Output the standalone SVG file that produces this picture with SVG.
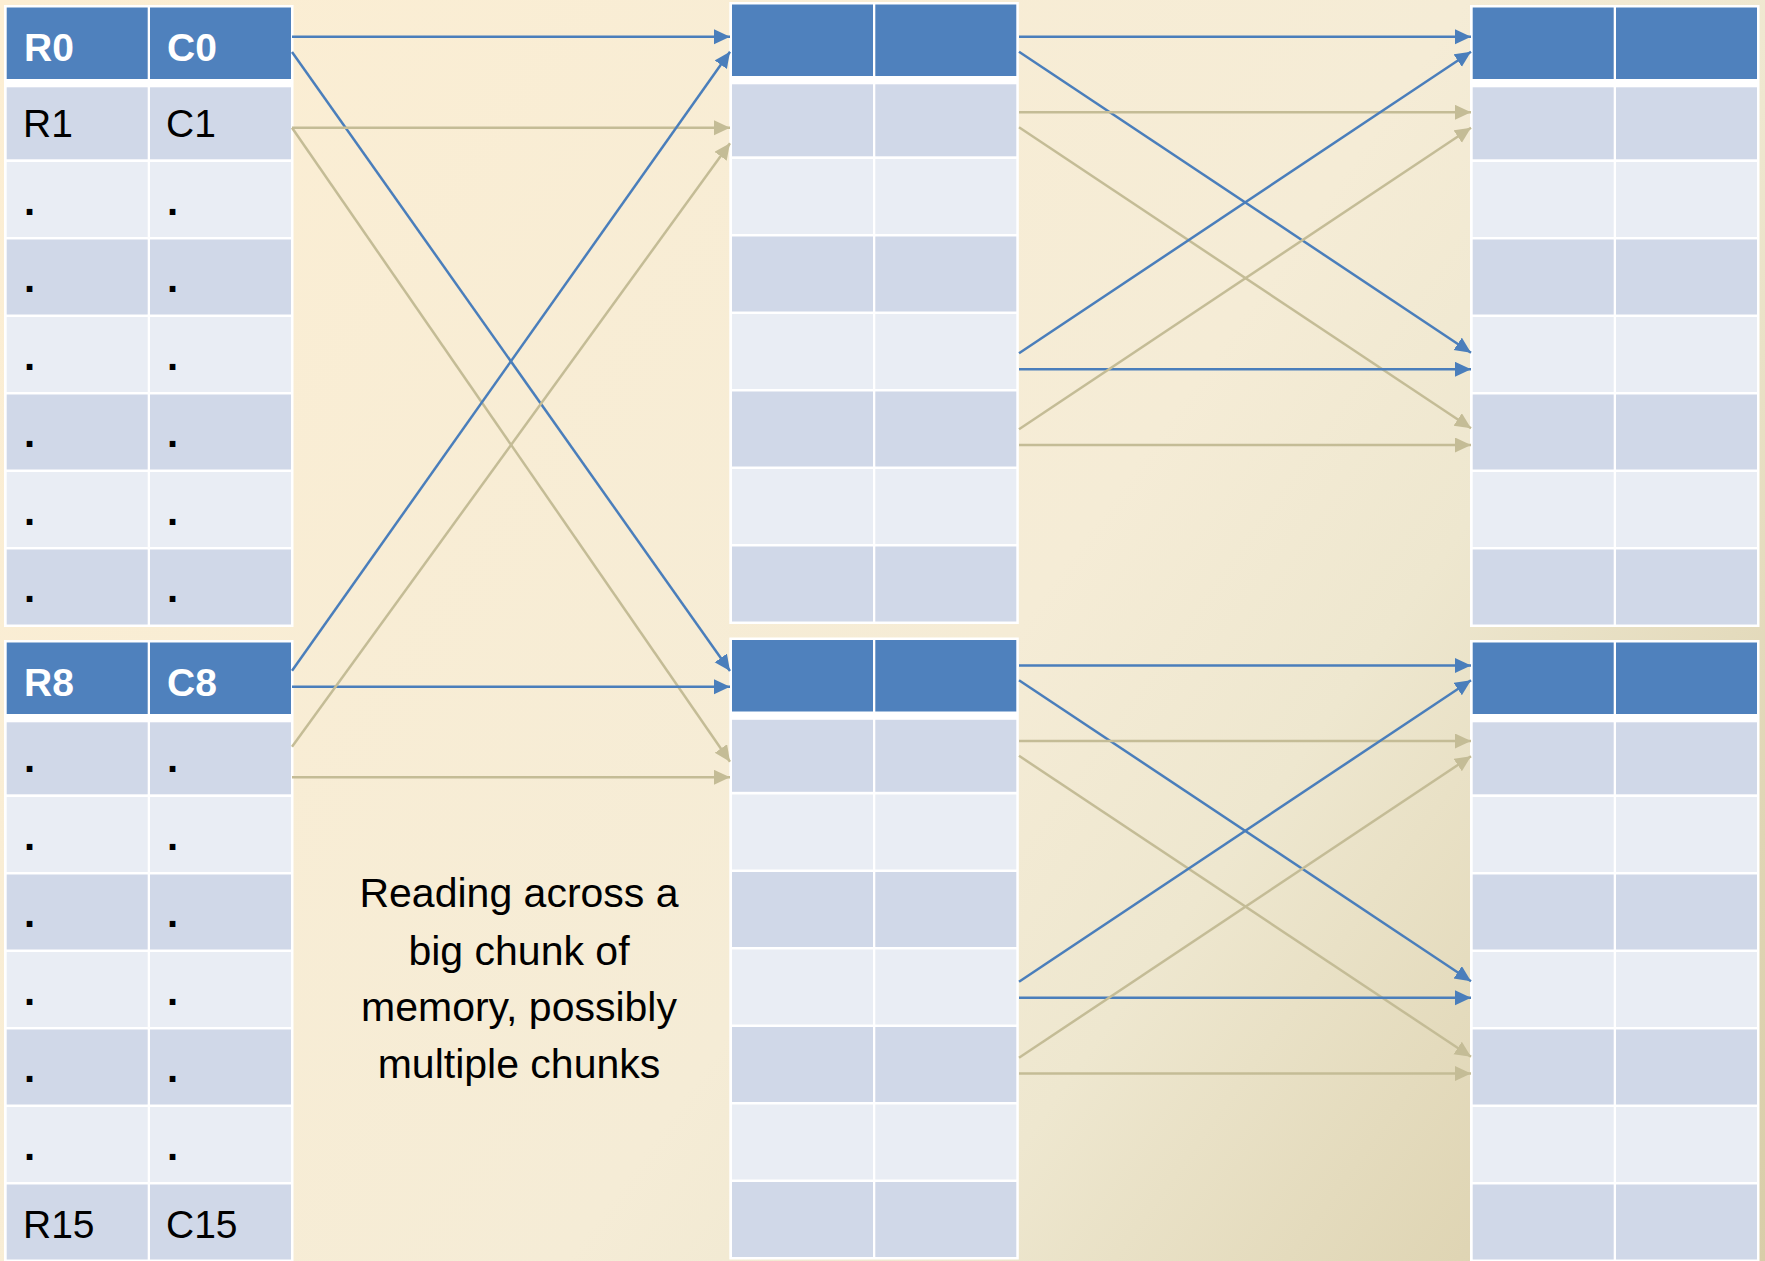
<svg xmlns="http://www.w3.org/2000/svg" xmlns:xlink="http://www.w3.org/1999/xlink" width="1765" height="1261" viewBox="0 0 1765 1261">
<style>
.bd{fill:#FFFFFF}
.hd{fill:#4F81BD}
.dk{fill:#D0D8E8}
.lt{fill:#E9EDF4}
.th{font-family:"Liberation Sans",Arial,sans-serif;font-weight:bold;font-size:39px;fill:#FFFFFF}
.tc{font-family:"Liberation Sans",Arial,sans-serif;font-size:39px;fill:#000000}
.dot{font-family:"Liberation Sans",Arial,sans-serif;font-weight:bold;font-size:40px;fill:#000000}
.note{font-family:"Liberation Sans",Arial,sans-serif;font-size:41px;fill:#000000;text-anchor:middle}
.ab{stroke:#4A7EBB;stroke-width:2.5;fill:none}
.at{stroke:#C4BC96;stroke-width:2.5;fill:none}
</style>
<defs>
<linearGradient id="bg" gradientUnits="userSpaceOnUse" x1="0" y1="0" x2="1765" y2="1261">
<stop offset="0" stop-color="#FCEED3"/>
<stop offset="0.55" stop-color="#F5ECD6"/>
<stop offset="0.69" stop-color="#EEE7CF"/>
<stop offset="0.885" stop-color="#DFD5B4"/>
<stop offset="1" stop-color="#D8CDA8"/>
</linearGradient>
<marker id="mb" markerUnits="userSpaceOnUse" markerWidth="17" markerHeight="16" refX="16" refY="7.5" orient="auto"><path d="M0,0 L16,7.5 L0,15 z" fill="#4A7EBB"/></marker>
<marker id="mt" markerUnits="userSpaceOnUse" markerWidth="17" markerHeight="16" refX="16" refY="7.5" orient="auto"><path d="M0,0 L16,7.5 L0,15 z" fill="#C4BC96"/></marker>
<g id="tbl">
<rect class="bd" x="0" y="0" width="289.5" height="622"/>
<rect class="hd" x="2.7" y="2.5" width="141" height="71.5"/><rect class="hd" x="146" y="2.5" width="141" height="71.5"/>
<rect class="dk" x="2.7" y="82.3" width="141" height="72"/><rect class="dk" x="146" y="82.3" width="141" height="72"/>
<rect class="lt" x="2.7" y="157" width="141" height="75"/><rect class="lt" x="146" y="157" width="141" height="75"/>
<rect class="dk" x="2.7" y="234.5" width="141" height="75"/><rect class="dk" x="146" y="234.5" width="141" height="75"/>
<rect class="lt" x="2.7" y="312" width="141" height="75"/><rect class="lt" x="146" y="312" width="141" height="75"/>
<rect class="dk" x="2.7" y="389.5" width="141" height="75"/><rect class="dk" x="146" y="389.5" width="141" height="75"/>
<rect class="lt" x="2.7" y="467" width="141" height="75"/><rect class="lt" x="146" y="467" width="141" height="75"/>
<rect class="dk" x="2.7" y="544.5" width="141" height="75"/><rect class="dk" x="146" y="544.5" width="141" height="75"/>
</g>
</defs>
<rect x="0" y="0" width="1765" height="1261" fill="url(#bg)"/>

<g id="table-left-top">
<use xlink:href="#tbl" href="#tbl" transform="translate(4,5)"/>
<text class="th" x="24" y="61">R0</text><text class="th" x="167" y="61">C0</text>
<text class="tc" x="23" y="137.3">R1</text><text class="tc" x="166" y="137.3">C1</text>
<text class="dot" x="24" y="214.5">.</text><text class="dot" x="167" y="214.5">.</text>
<text class="dot" x="24" y="292">.</text><text class="dot" x="167" y="292">.</text>
<text class="dot" x="24" y="369.5">.</text><text class="dot" x="167" y="369.5">.</text>
<text class="dot" x="24" y="447">.</text><text class="dot" x="167" y="447">.</text>
<text class="dot" x="24" y="524.5">.</text><text class="dot" x="167" y="524.5">.</text>
<text class="dot" x="24" y="602">.</text><text class="dot" x="167" y="602">.</text>
</g>

<g id="table-left-bottom">
<use xlink:href="#tbl" href="#tbl" transform="translate(4,640)"/>
<text class="th" x="24" y="696">R8</text><text class="th" x="167" y="696">C8</text>
<text class="dot" x="24" y="772.3">.</text><text class="dot" x="167" y="772.3">.</text>
<text class="dot" x="24" y="849.5">.</text><text class="dot" x="167" y="849.5">.</text>
<text class="dot" x="24" y="927">.</text><text class="dot" x="167" y="927">.</text>
<text class="dot" x="24" y="1004.5">.</text><text class="dot" x="167" y="1004.5">.</text>
<text class="dot" x="24" y="1082">.</text><text class="dot" x="167" y="1082">.</text>
<text class="dot" x="24" y="1159.5">.</text><text class="dot" x="167" y="1159.5">.</text>
<text class="tc" x="23" y="1237.5">R15</text><text class="tc" x="166" y="1237.5">C15</text>
</g>

<g id="table-mid-top"><use xlink:href="#tbl" href="#tbl" transform="translate(729.3,2)"/></g>
<g id="table-mid-bottom"><use xlink:href="#tbl" href="#tbl" transform="translate(729.3,637.5)"/></g>
<g id="table-right-top"><use xlink:href="#tbl" href="#tbl" transform="translate(1470,5)"/></g>
<g id="table-right-bottom"><use xlink:href="#tbl" href="#tbl" transform="translate(1470,640)"/></g>

<g id="note">
<text class="note" x="519" y="907">Reading across a</text>
<text class="note" x="519" y="964.5">big chunk of</text>
<text class="note" x="519" y="1021">memory, possibly</text>
<text class="note" x="519" y="1078">multiple chunks</text>
</g>

<g id="connectors">
<line class="ab" x1="292" y1="36.7" x2="730" y2="36.7" marker-end="url(#mb)"/>
<line class="ab" x1="292" y1="52" x2="730" y2="671" marker-end="url(#mb)"/>
<line class="at" x1="292" y1="127.7" x2="730" y2="127.7" marker-end="url(#mt)"/>
<line class="at" x1="292" y1="127.7" x2="730" y2="761.7" marker-end="url(#mt)"/>
<line class="ab" x1="292" y1="670.7" x2="730" y2="51.7" marker-end="url(#mb)"/>
<line class="ab" x1="292" y1="686.7" x2="730" y2="686.7" marker-end="url(#mb)"/>
<line class="at" x1="292" y1="746.7" x2="730" y2="143.3" marker-end="url(#mt)"/>
<line class="at" x1="292" y1="777.3" x2="730" y2="777.3" marker-end="url(#mt)"/>

<line class="ab" x1="1019" y1="36.7" x2="1471" y2="36.7" marker-end="url(#mb)"/>
<line class="ab" x1="1019" y1="51.7" x2="1471" y2="352.7" marker-end="url(#mb)"/>
<line class="at" x1="1019" y1="112.3" x2="1471" y2="112.3" marker-end="url(#mt)"/>
<line class="at" x1="1019" y1="127.3" x2="1471" y2="428.3" marker-end="url(#mt)"/>
<line class="ab" x1="1019" y1="353.3" x2="1471" y2="51.7" marker-end="url(#mb)"/>
<line class="ab" x1="1019" y1="369.3" x2="1471" y2="369.3" marker-end="url(#mb)"/>
<line class="at" x1="1019" y1="429.3" x2="1471" y2="127.7" marker-end="url(#mt)"/>
<line class="at" x1="1019" y1="445" x2="1471" y2="445" marker-end="url(#mt)"/>

<line class="ab" x1="1019" y1="665.5" x2="1471" y2="665.5" marker-end="url(#mb)"/>
<line class="ab" x1="1019" y1="680.2" x2="1471" y2="981.2" marker-end="url(#mb)"/>
<line class="at" x1="1019" y1="741" x2="1471" y2="741" marker-end="url(#mt)"/>
<line class="at" x1="1019" y1="755.8" x2="1471" y2="1056.8" marker-end="url(#mt)"/>
<line class="ab" x1="1019" y1="981.8" x2="1471" y2="680.2" marker-end="url(#mb)"/>
<line class="ab" x1="1019" y1="997.8" x2="1471" y2="997.8" marker-end="url(#mb)"/>
<line class="at" x1="1019" y1="1057.8" x2="1471" y2="756.2" marker-end="url(#mt)"/>
<line class="at" x1="1019" y1="1073.5" x2="1471" y2="1073.5" marker-end="url(#mt)"/>
</g>
</svg>
